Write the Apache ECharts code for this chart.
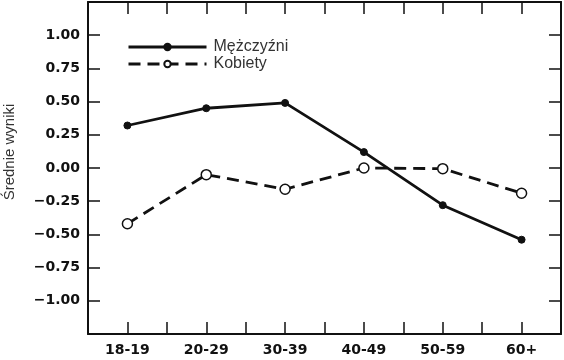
<!DOCTYPE html>
<html><head><meta charset="utf-8">
<script src="https://cdn.jsdelivr.net/npm/echarts@6/dist/echarts.min.js"></script>
<style>html,body{margin:0;padding:0;background:#fff}#c{width:564px;height:360px}</style>
</head><body><div id="c"></div>
<script>
var categories = ['18-19','20-29','30-39','40-49','50-59','60+'];
var men = [0.32, 0.45, 0.49, 0.12, -0.28, -0.54];
var women = [-0.42, -0.05, -0.16, 0.00, -0.005, -0.19];
var seriesNames = ['Mężczyźni', 'Kobiety'];
var yAxisName = 'Średnie wyniki';

function pts(arr){ return arr.map(function(v,i){ return [i, v]; }); }
var ink = '#111';
var chart = echarts.init(document.getElementById('c'), null, {renderer:'canvas'});
var xBase = {
  type:'value', min:-0.5, max:5.5, interval:0.5,
  axisLine:{show:true, onZero:false, lineStyle:{color:ink, width:2}},
  axisTick:{show:true, inside:true, length:12, lineStyle:{color:ink, width:1.5}},
  splitLine:{show:false}
};
var yBase = {
  type:'value', min:-1.25, max:1.25, interval:0.25,
  axisLine:{show:true, onZero:false, lineStyle:{color:ink, width:2}},
  axisTick:{show:true, inside:true, length:12, lineStyle:{color:ink, width:1.5}},
  splitLine:{show:false}
};
chart.setOption({
  animation:false,
  backgroundColor:'#fff',
  grid:{left:88, right:3, top:2, bottom:26, containLabel:false},
  legend:{
    left:122, top:34, orient:'vertical', itemWidth:78, itemHeight:8, itemGap:1,
    lineStyle:{width:3},
    textStyle:{fontFamily:'Liberation Sans', fontSize:16, color:'#333', padding:[0,0,0,2]},
    data:[seriesNames[0], seriesNames[1]]
  },
  graphic:[{type:'text', x:10, y:152, rotation:Math.PI/2,
    style:{text:yAxisName, fontFamily:'Liberation Sans', fontSize:15, fill:'#333', align:'center', verticalAlign:'middle'}}],
  xAxis:[
    Object.assign({}, xBase, {position:'bottom',
      axisLabel:{show:true, margin:9, color:ink, fontFamily:'DejaVu Sans', fontWeight:'bold', fontSize:14,
        formatter:function(v){ var r=Math.round(v); return Math.abs(v-r)<1e-6 && r>=0 && r<categories.length ? categories[r] : ''; }}}),
    Object.assign({}, xBase, {position:'top', axisLabel:{show:false}})
  ],
  yAxis:[
    Object.assign({}, yBase, {position:'left',
      axisLabel:{show:true, margin:8, color:ink, fontFamily:'DejaVu Sans', fontWeight:'bold', fontSize:14,
        formatter:function(v){ if(Math.abs(v)>1.01) return ''; return (v<0?'−':'')+Math.abs(v).toFixed(2); }}}),
    Object.assign({}, yBase, {position:'right', axisLabel:{show:false}})
  ],
  series:[
    {name:seriesNames[0], type:'line', data:pts(men), symbol:'circle', symbolSize:7,
      lineStyle:{color:ink, width:2.8}, itemStyle:{color:ink, borderColor:ink, borderWidth:1}},
    {name:seriesNames[1], type:'line', data:pts(women), symbol:'circle', symbolSize:10,
      lineStyle:{color:ink, width:2.8, type:[12,7]}, itemStyle:{color:'#fff', borderColor:ink, borderWidth:1.5}}
  ]
});
</script></body></html>
